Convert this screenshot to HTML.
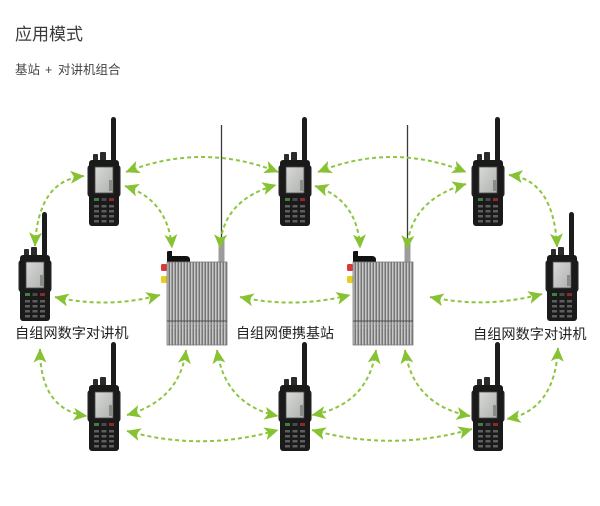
<!DOCTYPE html>
<html><head><meta charset="utf-8"><style>
html,body{margin:0;padding:0;background:#fff;}
svg{display:block;}
text{font-family:"Liberation Sans","Noto Sans CJK SC",sans-serif;}
</style></head><body>
<svg width="600" height="506" viewBox="0 0 600 506" xmlns="http://www.w3.org/2000/svg">
<defs>
  <pattern id="st" width="3" height="10" patternUnits="userSpaceOnUse">
    <rect width="3" height="10" fill="#767676"/>
    <rect width="1.5" height="10" fill="#c8c8c8"/>
  </pattern>
  <marker id="ah" viewBox="0 0 14 13" refX="13.5" refY="6.5" markerWidth="14" markerHeight="13" markerUnits="userSpaceOnUse" orient="auto-start-reverse">
    <path d="M0,0 L14,6.5 L0,13 L3.5,6.5 z" fill="#86c232"/>
  </marker>
  <linearGradient id="scr" x1="0" y1="0" x2="1" y2="1">
    <stop offset="0" stop-color="#d8dad7"/>
    <stop offset="1" stop-color="#aeb1ad"/>
  </linearGradient>
  <g id="radio">
    <rect x="22" y="-43" width="5" height="46" rx="2.5" fill="#1c1c1c"/>
    <rect x="4" y="-6" width="5" height="7" rx="1" fill="#2b2b2b"/>
    <rect x="11" y="-8" width="6" height="9" rx="1" fill="#2b2b2b"/>
    <rect x="-1.5" y="5" width="33" height="32" rx="3" fill="#232323"/>
    <rect x="0" y="0" width="30" height="66" rx="3" fill="#1a1a1a"/>
    <rect x="6" y="7" width="18" height="26" fill="url(#scr)" stroke="#4a4a4a" stroke-width="0.8"/>
    <rect x="20" y="20" width="3" height="11" fill="#8a8a8a"/>
    <rect x="5" y="38" width="5" height="3" fill="#3f7f3f"/>
    <rect x="12.5" y="38" width="5" height="3" fill="#4a4a4a"/>
    <rect x="20" y="38" width="5" height="3" fill="#8a2a2a"/>
    <g fill="#5e5e5e">
      <rect x="5" y="45" width="5" height="2.5"/><rect x="12.5" y="45" width="5" height="2.5"/><rect x="20" y="45" width="5" height="2.5"/>
      <rect x="5" y="50" width="5" height="2.5"/><rect x="12.5" y="50" width="5" height="2.5"/><rect x="20" y="50" width="5" height="2.5"/>
      <rect x="5" y="55" width="5" height="2.5"/><rect x="12.5" y="55" width="5" height="2.5"/><rect x="20" y="55" width="5" height="2.5"/>
      <rect x="5" y="60" width="5" height="2.5"/><rect x="12.5" y="60" width="5" height="2.5"/><rect x="20" y="60" width="5" height="2.5"/>
    </g>
  </g>
  <g id="bs">
    <line x1="54.5" y1="-137" x2="54.5" y2="-10" stroke="#3a3a3a" stroke-width="1.3"/>
    <rect x="51.5" y="-22" width="6" height="22" fill="#9c9c9c"/>
    <path d="M0,0 L0,-10 Q0,-11 2,-11 L5,-11 L5,-6 L19,-6 Q23,-6 23,-2 L23,0 z" fill="#111"/>
    <rect x="-6" y="2" width="6" height="7" rx="1.5" fill="#d83a3a"/>
    <rect x="-6" y="14" width="6" height="7" rx="1.5" fill="#e6cf1e"/>
    <rect x="0" y="0" width="60" height="83" fill="url(#st)" stroke="#7a7a7a" stroke-width="0.8"/>
    <line x1="0" y1="59" x2="60" y2="59" stroke="#4e4e4e" stroke-width="1"/>
    <line x1="0" y1="62" x2="60" y2="62" stroke="#b0b0b0" stroke-width="0.8"/>
    <line x1="0" y1="66" x2="60" y2="66" stroke="#b0b0b0" stroke-width="0.6"/>
  </g>
</defs>

<text x="15" y="40" font-size="17" fill="#3a3a3a">应用模式</text>
<text x="15" y="74" font-size="12.5" fill="#444">基站</text>
<text x="45" y="74" font-size="12.5" fill="#444">+</text>
<text x="58" y="74" font-size="12.5" fill="#444">对讲机组合</text>

<!-- devices -->
<use href="#bs" x="167" y="262"/>
<use href="#bs" x="353" y="262"/>
<use href="#radio" x="89" y="160"/>
<use href="#radio" x="280" y="160"/>
<use href="#radio" x="473" y="160"/>
<use href="#radio" x="20" y="255"/>
<use href="#radio" x="547" y="255"/>
<use href="#radio" x="89" y="385"/>
<use href="#radio" x="280" y="385"/>
<use href="#radio" x="473" y="385"/>

<!-- arrows -->
<g fill="none" stroke="#8cc63f" stroke-width="2" stroke-dasharray="4 3" marker-start="url(#ah)" marker-end="url(#ah)">
  <path d="M35,246 Q38,180 84,176"/>
  <path d="M126,172 Q202,142 278,172"/>
  <path d="M125,186 Q168,200 172,248"/>
  <path d="M220,248 Q222,200 276,185"/>
  <path d="M318,172 Q392,142 466,172"/>
  <path d="M315,186 Q358,200 360,248"/>
  <path d="M407,249 Q410,200 466,184"/>
  <path d="M509,175 Q554,180 557,247"/>
  <path d="M55,297 Q108,309 160,295"/>
  <path d="M240,297 Q295,309 350,295"/>
  <path d="M430,297 Q486,309 542,294"/>
  <path d="M40,349 Q40,410 87,416"/>
  <path d="M127,415 Q180,400 186,350"/>
  <path d="M127,431 Q202,452 278,430"/>
  <path d="M217,350 Q225,405 278,416"/>
  <path d="M376,350 Q368,405 312,415"/>
  <path d="M312,430 Q392,452 472,429"/>
  <path d="M405,350 Q413,405 470,416"/>
  <path d="M558,348 Q555,410 507,419"/>
</g>

<text x="15" y="338" font-size="14.2" fill="#222">自组网数字对讲机</text>
<text x="236" y="338" font-size="14" fill="#222">自组网便携基站</text>
<text x="473" y="339" font-size="14.2" fill="#222">自组网数字对讲机</text>
</svg>
</body></html>
